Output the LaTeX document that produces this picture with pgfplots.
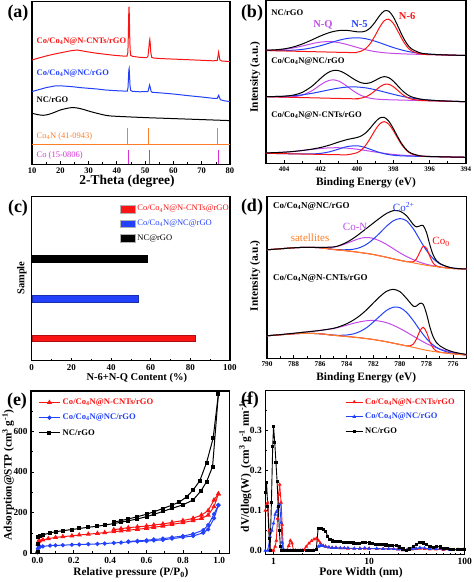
\documentclass[border=0pt]{standalone}
\usepackage{fontspec}
\setmainfont{Liberation Serif}
\usepackage{pgfplots}
\pgfplotsset{compat=1.18}
\definecolor{cR}{RGB}{250,20,20}
\definecolor{cB}{RGB}{35,65,250}
\definecolor{cM}{RGB}{195,75,235}
\definecolor{cO}{RGB}{255,125,40}
\definecolor{cMa}{RGB}{215,50,215}
\newcommand{\fs}[1]{\fontsize{#1}{#1}\selectfont}
\pgfplotsset{
 panel/.style={scale only axis, anchor=south west,
   axis line style={line width=1.1pt},
   tick align=inside, tick pos=left,
   major tick length=3pt, minor tick length=1.8pt,
   major tick style={black,line width=0.8pt},
   minor tick style={black,line width=0.7pt},
   /pgf/number format/assume math mode=true,
   ylabel style={anchor=center},
 },
}
\begin{document}
\begin{tikzpicture}
\useasboundingbox (0,0) rectangle (474pt,582pt);
%================ (a)
\begin{axis}[panel, at={(32pt,417.7pt)}, width=198pt, height=162.6pt,
  xmin=10, xmax=80, ymin=0, ymax=162.6, xtick={10,20,...,80}, minor x tick num=1, ytick=\empty,
  tick label style={font=\fs{8.5}\bfseries},
  xlabel={2-Theta (degree)}, label style={font=\fs{13.5}\bfseries},
  xlabel style={at={(axis description cs:0.48,-0.107)}, anchor=center}]
\addplot[cR, line width=1pt] coordinates {(10,104.3) (12,106) (15,108.3) (18,110.3) (21,112) (24,113.7) (26,114.3) (28,113.3) (30,112.3) (33,111) (36,110) (39,109) (42,108.3) (43.6,108.2) (43.9,112) (44.05,128) (44.2,150) (44.3,157.7) (44.4,150) (44.55,128) (44.7,114) (44.9,109) (45.5,108) (48,107) (50.5,106.6) (51.0,108) (51.3,116) (51.5,123) (51.65,125) (51.8,121) (52.0,112) (52.3,107) (53,106.3) (55,105.8) (60,105.2) (65,104.6) (70,104) (74,103.5) (75.5,103.8) (75.75,108) (75.95,112) (76.15,109) (76.4,104.5) (77,103.3) (80,102.7)};
\addplot[cB, line width=1pt] coordinates {(10,72.7) (12,74.3) (15,76.7) (18,78.3) (21,78.3) (24,77.7) (27,76.7) (30,76) (33,75.3) (36,74.3) (39,73.7) (42,73.3) (43.7,73.2) (43.95,77) (44.1,86) (44.25,95) (44.35,96) (44.5,88) (44.65,79) (44.85,74) (45.5,73) (48,72.5) (51.0,72.8) (51.3,76) (51.55,79.3) (51.8,77) (52.1,73) (52.5,72) (55,71.5) (60,70.3) (65,68.7) (70,67.3) (74,66) (75.5,66) (75.8,68) (76.0,69) (76.2,67.3) (76.6,64.6) (78,63.5) (80,62.7)};
\addplot[black, line width=1pt, smooth] coordinates {(10,51) (12,49.7) (14,49) (16,50) (18,52) (20,54.3) (22,55.7) (24,56.7) (26,56.3) (28,55) (30,53.3) (32,51.7) (34,50.3) (36,49) (38,48.3) (42,47.7) (50,46.7) (60,45.7) (70,44.7) (80,43.7)};
\addplot[cO, line width=0.9pt] coordinates {(10,20.3) (80,20.3)};
\addplot[cO, line width=0.9pt] coordinates {(43.9,20.3) (43.9,36.7)};
\addplot[cO, line width=0.9pt] coordinates {(51.1,20.3) (51.1,36.7)};
\addplot[cO, line width=0.9pt] coordinates {(75.4,20.3) (75.4,36.7)};
\addplot[cMa, line width=0.9pt] coordinates {(44.2,0) (44.2,14.3)};
\addplot[cMa, line width=0.9pt] coordinates {(51.55,0) (51.55,14.3)};
\addplot[cMa, line width=0.9pt] coordinates {(75.9,0) (75.9,14.3)};
\node[anchor=west, text=cR, font=\fs{8.5}\bfseries] at (axis cs:10.4,122.6) {Co/Co\textsubscript{4}N@N-CNTs/rGO};
\node[anchor=west, text=cB, font=\fs{8.5}\bfseries] at (axis cs:10.4,91) {Co/Co\textsubscript{4}N@NC/rGO};
\node[anchor=west, text=black, font=\fs{8.5}\bfseries] at (axis cs:10.4,65) {NC/rGO};
\node[anchor=west, text=cO, font=\fs{8.5}] at (axis cs:10.4,28.3) {Co\textsubscript{4}N (41-0943)};
\node[anchor=west, text=cMa, font=\fs{8.5}] at (axis cs:10.4,9.3) {Co (15-0806)};
\end{axis}
%================ (b)
\begin{axis}[panel, at={(266pt,418.7pt)}, width=200pt, height=162.6pt,
  x dir=reverse, xmin=394, xmax=405, ymin=-0.3, ymax=162.3,
  xtick={394,396,...,404}, minor x tick num=1, ytick=\empty,
  tick label style={font=\fs{7}\bfseries},
  xlabel={Binding Energy (eV)}, ylabel={Intensity (a.u.)}, label style={font=\fs{11.3}\bfseries},
  xlabel style={at={(axis description cs:0.5,-0.119)}, anchor=center},
  ylabel style={at={(axis description cs:-0.0535,0.529)}},
  every axis plot/.append style={smooth, line width=1pt, no markers}]
% top
\addplot[cM] coordinates {(405,112.78) (404.5,113.0) (404,113.7) (403.5,115.04) (403,116.99) (402.5,119.17) (402,120.89) (401.5,121.41) (401,120.43) (400.5,118.26) (400,115.63) (399.75,114.35) (399.5,113.22) (399.25,112.24) (399,111.42) (398.75,110.78) (398.5,110.28) (398.25,109.89) (398,109.6) (397.75,109.36) (397.5,109.18) (397,108.86) (396,108.41) (394,107.5)};
\addplot[cB] coordinates {(405,112.56) (404.5,112.44) (404,112.48) (403.5,112.81) (403,113.62) (402.5,115.1) (402,117.31) (401.5,120.01) (401,122.68) (400.5,124.65) (400,125.23) (399.75,124.91) (399.5,124.2) (399.25,123.09) (399,121.77) (398.75,120.26) (398.5,118.65) (398.25,117.03) (398,115.49) (397.75,114.1) (397.5,112.83) (397.25,111.78) (397,110.89) (396.5,109.63) (396,108.84) (395.5,108.35) (395,108.01) (394.5,107.73) (394,107.5)};
\addplot[cR] coordinates {(405,112.5) (400.5,110.5) (400,110.8) (399.75,112.0) (399.5,114.7) (399.25,119.8) (399,127.3) (398.75,135.7) (398.5,142.2) (398.25,143.8) (398,139.7) (397.75,131.9) (397.5,123.3) (397.25,116.5) (397,112.2) (396.5,109.0) (396,108.4) (394,107.5)};
\addplot[black] coordinates {(405,112.84) (404.5,113.17) (404,114.13) (403.5,116.03) (403,119.02) (402.5,122.91) (402,127.06) (401.5,130.51) (401,132.43) (400.5,132.5) (400,131.23) (399.75,131.05) (399.5,132.12) (399.25,135.34) (399,140.92) (398.75,147.38) (398.5,151.98) (398.25,151.89) (398,146.17) (397.75,136.96) (397.5,127.12) (397.25,119.28) (397,114.19) (396.5,110.03) (396,108.84) (395.5,108.35) (395,108.01) (394.5,107.73) (394,107.5)};
% middle
\addplot[cM] coordinates {(405,66.3) (404.5,66.08) (404,65.97) (403.5,66.27) (403,67.89) (402.5,71.96) (402.25,74.95) (402,78.14) (401.75,80.92) (401.5,82.71) (401.25,83.06) (401,81.88) (400.75,79.37) (400.5,76.15) (400.25,72.74) (400,69.78) (399.75,67.41) (399.5,65.8) (399.25,64.69) (399,64.05) (398.75,63.66) (398.5,63.43) (398,63.12) (394,61.3)};
\addplot[cB] coordinates {(405,66.49) (404.5,66.49) (404,66.71) (403.5,67.24) (403,68.19) (402.5,69.59) (402.25,70.44) (402,71.36) (401.75,72.31) (401.5,73.25) (401.25,74.15) (401,74.91) (400.75,75.53) (400.5,75.93) (400.25,76.09) (400,76.01) (399.75,75.66) (399.5,75.08) (399.25,74.28) (399,73.3) (398.75,72.22) (398.5,71.05) (398.25,69.87) (398,68.71) (397.75,67.62) (397.5,66.62) (397.25,65.72) (397,64.94) (396.5,63.71) (396,62.86) (395.5,62.29) (395,61.88) (394.5,61.58) (394,61.32)};
\addplot[cR] coordinates {(405,66.3) (400.25,64.24) (400,64.39) (399.75,64.94) (399.5,66.3) (399.25,68.79) (399,72.3) (398.75,76.04) (398.5,78.56) (398.25,78.71) (398,76.37) (397.75,72.52) (397.5,68.64) (397.25,65.7) (397,63.91) (396.5,62.57) (396,62.21) (394,61.3)};
\addplot[black] coordinates {(405,66.49) (404.5,66.5) (404,66.83) (403.5,67.89) (403,70.69) (402.5,76.39) (402.25,80.34) (402,84.56) (401.75,88.41) (401.5,91.25) (401.25,92.61) (401,92.31) (400.75,90.53) (400.5,87.83) (400.25,84.79) (400,82.12) (399.75,80.19) (399.5,79.58) (399.25,80.38) (399,82.51) (398.75,85.0) (398.5,86.34) (398.25,85.35) (398,81.96) (397.75,77.14) (397.5,72.37) (397.25,68.64) (397,66.19) (396.5,63.84) (396,62.86) (395.5,62.29) (395,61.88) (394.5,61.58) (394,61.32)};
% bottom
\addplot[cM] coordinates {(405,10.14) (404.5,10.36) (404,10.82) (403.5,11.52) (403,12.47) (402.5,13.54) (402,14.5) (401.5,15.13) (401,15.25) (400.5,14.76) (400,13.77) (399.75,13.13) (399.5,12.45) (399.25,11.73) (399,11.02) (398.75,10.34) (398.5,9.71) (398.25,9.14) (398,8.63) (397.75,8.19) (397.5,7.81) (397.25,7.5) (397,7.23) (396.5,6.82) (396,6.52) (395.5,6.29) (395,6.06) (394,5.7)};
\addplot[cB] coordinates {(405,9.7) (403.5,9.15) (403,9.02) (402.5,9.06) (402,9.62) (401.5,11.23) (401,13.95) (400.5,16.58) (400,17.22) (399.75,16.5) (399.5,15.23) (399.25,13.63) (399,11.98) (398.75,10.48) (398.5,9.28) (398.25,8.38) (398,7.77) (397.75,7.37) (397.5,7.12) (397,6.82) (396,6.43) (394,5.7)};
\addplot[cR] coordinates {(405,9.7) (401,8.27) (400.5,8.36) (400,10.25) (399.75,13.13) (399.5,18.1) (399.25,25.11) (399,32.82) (398.75,39.03) (398.5,41.34) (398.25,38.85) (398,32.45) (397.75,24.56) (397.5,17.37) (397.25,12.22) (397,9.16) (396.5,6.91) (396,6.43) (394,5.7)};
\addplot[black] coordinates {(405,10.14) (404.5,10.36) (404,10.82) (403.5,11.52) (403,12.52) (402.5,13.81) (402,15.51) (401.5,17.93) (401,20.97) (400.5,23.58) (400,25.48) (399.75,27.18) (399.5,30.38) (399.25,35.25) (399,40.78) (398.75,44.99) (398.5,45.65) (398.25,41.87) (398,34.55) (397.75,26.0) (397.5,18.36) (397.25,12.84) (397,9.63) (396.5,7.12) (396,6.52) (395.5,6.29) (395,6.06) (394.5,5.88) (394,5.7)};
\node[anchor=west, font=\fs{8.6}\bfseries] at (axis cs:404.9,150.7) {NC/rGO};
\node[text=cM, font=\fs{10.5}\bfseries] at (axis cs:401.87,138) {N-Q};
\node[text=cB, font=\fs{10.5}\bfseries] at (axis cs:399.86,139) {N-5};
\node[text=cR, font=\fs{10.5}\bfseries] at (axis cs:397.24,147.3) {N-6};
\node[anchor=west, font=\fs{8.6}\bfseries] at (axis cs:404.9,101.3) {Co/Co\textsubscript{4}N@NC/rGO};
\node[anchor=west, font=\fs{8.6}\bfseries] at (axis cs:404.9,47.3) {Co/Co\textsubscript{4}N@N-CNTs/rGO};
\end{axis}
%================ (c)
\begin{axis}[panel, at={(31.7pt,221.3pt)}, width=198.3pt, height=164.5pt,
  xmin=0, xmax=100, ymin=0.437, ymax=4.57, xtick={0,20,...,100}, minor x tick num=1, ytick=\empty,
  tick label style={font=\fs{9}\bfseries},
  xlabel={N-6+N-Q Content (\%)}, ylabel={Sample}, label style={font=\fs{10.5}\bfseries},
  xlabel style={at={(axis description cs:0.53,-0.103)}, anchor=center},
  ylabel style={at={(axis description cs:-0.05,0.502)}},
  xbar, bar width=6.7pt, bar shift=0pt,
  legend style={at={(axis description cs:0.445,0.958)}, anchor=north west, draw=none, fill=none, inner sep=0pt, row sep=3.6pt, font=\fs{8.5}, cells={anchor=west}},
  legend image code/.code={\draw[#1, draw=gray!60, line width=0.3pt] (0pt,-3.8pt) rectangle (15pt,3.8pt);}]
\addplot[fill=cR, draw=cR!70!black] coordinates {(82.4,1)};
\addlegendentry{\textcolor{cR}{Co/Co\textsubscript{4}N@N-CNTs@rGO}}
\addplot[fill=cB, draw=cB!70!black] coordinates {(53.8,2)};
\addlegendentry{\textcolor{cB}{Co/Co\textsubscript{4}N@NC@rGO}}
\addplot[fill=black, draw=black] coordinates {(58.3,3)};
\addlegendentry{NC@rGO}
\end{axis}
%================ (d)
\begin{axis}[panel, at={(267pt,223.7pt)}, width=199.3pt, height=161.6pt,
  x dir=reverse, xmin=775, xmax=790, ymin=0, ymax=161.6,
  xtick={776,778,...,790}, minor x tick num=1, ytick=\empty,
  tick label style={font=\fs{7.3}\bfseries},
  xlabel={Binding Energy (eV)}, ylabel={Intensity (a.u.)}, label style={font=\fs{11.3}\bfseries},
  xlabel style={at={(axis description cs:0.498,-0.12)}, anchor=center},
  ylabel style={at={(axis description cs:-0.059,0.511)}},
  every axis plot/.append style={smooth, line width=1pt, no markers}]
% top
\addplot[cM] coordinates {(790,108.5) (789,109.5) (788,110.5) (787,111.0) (786,110.95) (785,111.16) (784.5,112.63) (784,114.96) (783.5,117.55) (783,119.9) (782.5,120.8) (782,119.9) (781.5,117.3) (781,113.8) (780.5,109.7) (780,105.46) (779.5,101.82) (779,98.69) (778.75,97.36) (778.5,96.11) (778.25,94.98) (778,94.0) (777.75,93.27) (777.5,92.6) (777.25,91.99) (777,91.43) (776.5,90.6) (776,89.8) (775,89.3)};
\addplot[cB] coordinates {(790,108.5) (789,109.5) (788,110.5) (787,111.0) (786,110.5) (785,108.95) (784.5,108.57) (784,108.57) (783.5,109.08) (783,110.76) (782.5,114.0) (782,119.1) (781.5,125.4) (781,132.1) (780.5,137.4) (780,139.7) (779.5,137.55) (779,129.7) (778.75,124.4) (778.5,118.65) (778.25,113.0) (778,107.9) (777.75,103.55) (777.5,99.8) (777.25,96.85) (777,94.6) (776.5,91.8) (776,90.2) (775.5,89.65) (775,89.3)};
\addplot[cR] coordinates {(790,108.5) (788,110.5) (787,111) (786,110.5) (785,108.8) (784,107.5) (783,105.8) (782,103.8) (781,101) (780,98) (779.5,96.75) (779,96.56) (778.75,99.48) (778.5,106.11) (778.25,111.99) (778,110.12) (777.75,102.13) (777.5,95.31) (777.25,92.3) (777,91.2) (776,89.8) (775,89.3)};
\addplot[cO] coordinates {(790,108.5) (789,109.5) (788,110.5) (787,111) (786,110.5) (785,108.8) (784,107.5) (783,105.8) (782,103.8) (781,101) (780,98) (779,95.5) (778,93) (777,91.2) (776,89.8) (775,89.3)};
\addplot[black] coordinates {(790,108.5) (789,109.5) (788,110.5) (787,111.0) (786,110.95) (785,111.31) (784.5,113.05) (784,116.03) (783.5,119.98) (783,124.86) (782.5,130.0) (782,135.2) (781.5,140.3) (781,144.9) (780.5,147.6) (780,147.16) (779.5,142.62) (779,133.95) (778.75,131.44) (778.5,132.37) (778.25,132.77) (778,126.02) (777.75,113.85) (777.5,103.51) (777.25,97.84) (777,94.83) (776.5,91.9) (776,90.2) (775.5,89.65) (775,89.3)};
% bottom
\addplot[cM] coordinates {(790,22.54) (789,23.65) (788,25.0) (787,26.41) (786,27.86) (785,29.73) (784.5,31.33) (784,33.1) (783.5,34.95) (783,36.5) (782.5,37.55) (782,37.9) (781.5,37.15) (781,35.6) (780.5,33.05) (780,29.8) (779.5,26.2) (779,22.3) (778.75,20.35) (778.5,18.43) (778.25,16.55) (778,14.73) (777.75,13.25) (777.5,11.86) (777.25,10.57) (777,9.36) (776.5,7.47) (776,5.91) (775.5,4.77) (775,3.8)};
\addplot[cB] coordinates {(790,22.5) (789,23.5) (788,24.5) (787,25) (786,24.5) (785,23.23) (784.5,23.01) (784,23.28) (783.5,24.38) (783,26.79) (782.5,30.65) (782,36.2) (781.5,42.25) (781,47.9) (780.5,51.05) (780,50.7) (779.5,46.0) (779,37.9) (778.75,33.15) (778.5,28.4) (778.25,23.95) (778,19.8) (777.75,16.3) (777.5,13.4) (777.25,11.0) (777,9.1) (776.5,6.55) (776,5.0) (775.5,4.1) (775,3.35)};
\addplot[cR] coordinates {(790,22.5) (789,23.5) (788,24.5) (787,25) (786,24.5) (785,23) (784,21.8) (783,20.5) (782,18.8) (781,16.5) (780,13.8) (779.5,12.4) (779.25,12.35) (779,14.0) (778.75,19.3) (778.5,27.1) (778.25,31.05) (778,26.3) (777.75,17.2) (777.5,10.35) (777.25,7.25) (777,6.1) (776.5,5.25) (776,4.5) (775,3.3)};
\addplot[cO] coordinates {(790,22.5) (789,23.5) (788,24.5) (787,25) (786,24.5) (785,23.0) (784,21.8) (783,20.5) (782,18.8) (781,16.5) (780,13.8) (779,11) (778,8) (777,6) (776,4.5) (775,3.3)};
\addplot[black] coordinates {(790,22.54) (789,23.65) (788,25.0) (787,26.41) (786,27.86) (785,29.96) (784.5,31.94) (784,34.58) (783.5,38.18) (783,42.79) (782.5,48.55) (782,55.3) (781.5,61.75) (781,67.0) (780.5,68.95) (780,66.7) (779.5,59.9) (779,52.2) (778.75,52.3) (778.5,54.93) (778.25,54.05) (778,44.83) (777.75,31.75) (777.5,21.61) (777.25,15.82) (777,12.56) (776.5,8.77) (776,6.41) (775.5,4.97) (775,3.85)};
\node[anchor=west, font=\fs{9}\bfseries] at (axis cs:789.8,151.6) {Co/Co\textsubscript{4}N@NC/rGO};
\node[text=cB, font=\fs{11}] at (axis cs:779.71,151.6) {Co\textsuperscript{2+}};
\node[text=cM, font=\fs{11}] at (axis cs:783.36,131.6) {Co-N};
\node[text=cO, font=\fs{11}] at (axis cs:786.76,120.6) {satellites};
\node[text=cR, font=\fs{11}] at (axis cs:776.9,116.6) {Co\textsubscript{0}};
\node[anchor=west, font=\fs{9}\bfseries] at (axis cs:789.8,80) {Co/Co\textsubscript{4}N@N-CNTs/rGO};
\end{axis}
%================ (e)
\begin{axis}[panel, at={(31pt,28.7pt)}, width=198.3pt, height=162.3pt,
  xmin=-0.035, xmax=1.055, ymin=0, ymax=798,
  xtick={0,0.2,0.4,0.6,0.8,1}, minor x tick num=1,
  ytick={0,200,400,600}, minor ytick={100,300,500,700},
  xticklabel style={/pgf/number format/.cd, fixed, fixed zerofill, precision=1},
  tick label style={font=\fs{9.3}\bfseries},
  xlabel={Relative pressure (P/P\textsubscript{0})}, ylabel={Adsorption@STP (cm\textsuperscript{3} g\textsuperscript{-1})},
  label style={font=\fs{11.3}\bfseries},
  xlabel style={at={(axis description cs:0.504,-0.12)}, anchor=center},
  ylabel style={at={(axis description cs:-0.1145,0.482)}},
  legend style={at={(axis description cs:0.035,0.965)}, anchor=north west, draw=none, fill=none, inner sep=0pt, row sep=4pt, font=\fs{8.6}\bfseries, cells={anchor=west}},
  legend image code/.code={\draw[mark repeat=2,mark phase=2,#1] plot coordinates {(0pt,0pt) (10.8pt,0pt) (21.6pt,0pt)};}]
\addplot[cR, line width=1pt, mark=triangle*, mark size=2pt] coordinates {(0.001,10) (0.003,45) (0.006,58) (0.012,62) (0.03,66) (0.06,72) (0.1,78) (0.14,82) (0.19,86) (0.23,90) (0.28,94) (0.33,98) (0.37,102) (0.42,106) (0.46,110) (0.5,114) (0.55,118) (0.6,123) (0.64,128) (0.69,134) (0.74,142) (0.8,151) (0.856,161) (0.902,172) (0.939,188) (0.971,229) (0.995,292)};
\addlegendentry{\textcolor{cR}{Co/Co\textsubscript{4}N@N-CNTs/rGO}}
\addplot[cB, line width=1pt, mark=*, mark size=1.6pt] coordinates {(0.001,5) (0.003,22) (0.007,30) (0.015,32) (0.03,34) (0.07,38) (0.1,39) (0.14,40) (0.19,42) (0.23,43) (0.28,45) (0.33,46) (0.37,48) (0.42,51) (0.46,53) (0.5,56) (0.55,58) (0.6,60) (0.64,63) (0.69,66) (0.74,72) (0.8,79) (0.856,85) (0.912,101) (0.939,118) (0.971,172) (0.995,237)};
\addlegendentry{\textcolor{cB}{Co/Co\textsubscript{4}N@NC/rGO}}
\addplot[black, line width=1pt, mark=square*, mark size=1.5pt] coordinates {(0.001,5) (0.003,45) (0.006,78) (0.012,87) (0.03,91) (0.07,100) (0.1,106) (0.14,111) (0.19,117) (0.23,122) (0.28,128) (0.33,133) (0.37,139) (0.42,146) (0.46,153) (0.5,160) (0.55,169) (0.6,180) (0.64,191) (0.69,206) (0.74,221) (0.8,238) (0.856,262) (0.9,308) (0.93,352) (0.963,426) (0.995,783)};
\addlegendentry{NC/rGO}
\addplot[forget plot, cR, line width=1pt, mark=triangle*, mark size=2pt] coordinates {(0.995,292) (0.971,262) (0.939,210) (0.902,188) (0.856,172) (0.8,161) (0.74,152) (0.69,144) (0.64,139) (0.6,134) (0.55,130) (0.5,126) (0.46,121) (0.42,116)};
\addplot[forget plot, cB, line width=1pt, mark=*, mark size=1.6pt] coordinates {(0.995,237) (0.971,193) (0.939,139) (0.912,114) (0.856,95) (0.8,85) (0.74,78) (0.69,72) (0.64,68) (0.6,64) (0.55,61) (0.5,58)};
\addplot[forget plot, black, line width=1pt, mark=square*, mark size=1.5pt] coordinates {(0.995,783) (0.966,565) (0.93,446) (0.893,357) (0.856,311) (0.82,277) (0.78,252) (0.74,237) (0.69,220) (0.64,204) (0.6,192) (0.55,180) (0.5,169) (0.46,161) (0.42,153)};
\end{axis}
%================ (f)
\begin{axis}[panel, at={(265.3pt,27.5pt)}, width=199.4pt, height=164pt,
  xmode=log, xmin=0.82, xmax=100, xtick={1,10,100}, xticklabels={1,10,100},
  ymin=-0.01, ymax=0.4, ytick={0,0.1,0.2,0.3}, minor ytick={0.05,0.15,0.25,0.35},
  yticklabel style={/pgf/number format/.cd, fixed, fixed zerofill, precision=1},
  tick label style={font=\fs{9.5}\bfseries},
  xlabel={Pore Width (nm)}, ylabel={dV/dlog(W)\ \ (cm\textsuperscript{3} g\textsuperscript{-1} nm\textsuperscript{-1})},
  label style={font=\fs{11.5}\bfseries},
  xlabel style={at={(axis description cs:0.48,-0.111)}, anchor=center},
  ylabel style={at={(axis description cs:-0.1,0.54)}},
  legend style={at={(axis description cs:0.4,0.965)}, anchor=north west, draw=none, fill=none, inner sep=0pt, row sep=3.5pt, font=\fs{8.5}\bfseries, cells={anchor=west}}]
\addplot[cR, line width=0.9pt, mark=triangle*, mark size=1.3pt] coordinates {(0.82,0.1) (0.845,0.115) (0.87,0.12) (0.9,0.05) (0.92,0.0) (0.96,0.0) (1.0,0.0) (1.04,0.01) (1.07,0.025) (1.1,0.08) (1.13,0.14) (1.16,0.165) (1.2,0.12) (1.23,0.065) (1.27,0.0) (1.32,0.0) (1.38,0.0) (1.44,0.012) (1.5,0.025) (1.56,0.018) (1.62,0.0) (1.7,0.0) (1.8,0.0) (1.9,0.0) (2.0,0.0) (2.1,0.002) (2.2,0.01) (2.35,0.018) (2.5,0.024) (2.65,0.028) (2.8,0.03) (2.95,0.025) (3.1,0.018) (3.3,0.012) (3.5,0.01) (3.8,0.008) (4.1,0.007) (4.5,0.007) (5,0.006) (5.5,0.006) (6,0.005) (7,0.005) (8,0.005) (9,0.005) (10,0.005) (12,0.004) (14,0.004) (16,0.004) (18,0.004) (20,0.003) (22.6,0.001) (25,0.002) (28,0.003) (31,0.004) (34,0.005) (38,0.004) (43,0.003) (50,0.003) (60,0.002) (70,0.002) (85,0.002) (98,0.002)};
\addlegendentry{\textcolor{cR}{Co/Co\textsubscript{4}N@N-CNTs/rGO}}
\addplot[cB, line width=0.9pt, mark=triangle*, mark size=1.3pt] coordinates {(0.82,0.0) (0.87,0.0) (0.92,0.035) (0.96,0.05) (1.0,0.068) (1.04,0.09) (1.075,0.097) (1.12,0.11) (1.16,0.115) (1.2,0.07) (1.23,0.02) (1.26,0.0) (1.3,0.0) (1.5,0.0) (1.7,0.0) (2.0,0.0) (2.3,0.0) (2.6,0.0) (2.8,0.002) (2.95,0.01) (3.1,0.012) (3.3,0.012) (3.5,0.01) (3.8,0.008) (4.1,0.007) (4.5,0.007) (5,0.006) (5.5,0.006) (6,0.006) (7,0.005) (8,0.005) (9,0.006) (10,0.005) (12,0.005) (14,0.004) (16,0.004) (18,0.004) (20,0.003) (22.6,0.001) (25,0.002) (28,0.004) (31,0.005) (34,0.007) (38,0.006) (43,0.004) (50,0.004) (60,0.003) (70,0.002) (85,0.002) (98,0.002)};
\addlegendentry{\textcolor{cB}{Co/Co\textsubscript{4}N@NC/rGO}}
\addplot[black, line width=0.9pt, mark=square*, mark size=1.1pt] coordinates {(0.82,0.145) (0.845,0.17) (0.87,0.11) (0.9,0.03) (0.92,0.0) (0.95,0.12) (0.98,0.26) (1.0,0.31) (1.03,0.27) (1.06,0.22) (1.09,0.172) (1.12,0.11) (1.15,0.05) (1.18,0.01) (1.22,0.0) (1.3,0.0) (1.4,0.0) (1.5,0.0) (1.6,0.0) (1.7,0.0) (1.8,0.0) (1.9,0.0) (2.0,0.0) (2.2,0.0) (2.4,0.0) (2.6,0.0) (2.8,0.002) (2.93,0.056) (3.05,0.056) (3.2,0.055) (3.35,0.052) (3.5,0.048) (3.7,0.035) (3.9,0.027) (4.1,0.024) (4.4,0.023) (4.7,0.022) (5.0,0.022) (5.4,0.021) (5.8,0.021) (6.3,0.02) (6.8,0.019) (7.3,0.018) (7.9,0.018) (8.5,0.02) (9.2,0.021) (10,0.019) (10.8,0.017) (11.7,0.016) (12.7,0.016) (13.8,0.015) (15,0.014) (16.3,0.013) (17.7,0.013) (19.2,0.012) (20.8,0.009) (22.6,0.004) (24.5,0.001) (26.6,0.004) (28.9,0.01) (31.3,0.016) (34,0.021) (36.9,0.019) (40,0.015) (43.4,0.01) (47.1,0.008) (51.1,0.01) (55.4,0.009) (60.1,0.006) (65.2,0.005) (70.7,0.003) (76.7,0.003) (83.2,0.003) (90.3,0.003) (98,0.003)};
\addlegendentry{NC/rGO}
\end{axis}
%================ panel labels
\node[font=\fs{18}\bfseries] at (18pt,568.7pt) {(a)};
\node[font=\fs{18}\bfseries] at (252pt,568.7pt) {(b)};
\node[font=\fs{18}\bfseries] at (18pt,374pt) {(c)};
\node[font=\fs{18}\bfseries] at (252pt,375pt) {(d)};
\node[font=\fs{18}\bfseries] at (17pt,180.5pt) {(e)};
\node[font=\fs{18}\bfseries] at (250pt,182pt) {(f)};
\end{tikzpicture}
\end{document}
